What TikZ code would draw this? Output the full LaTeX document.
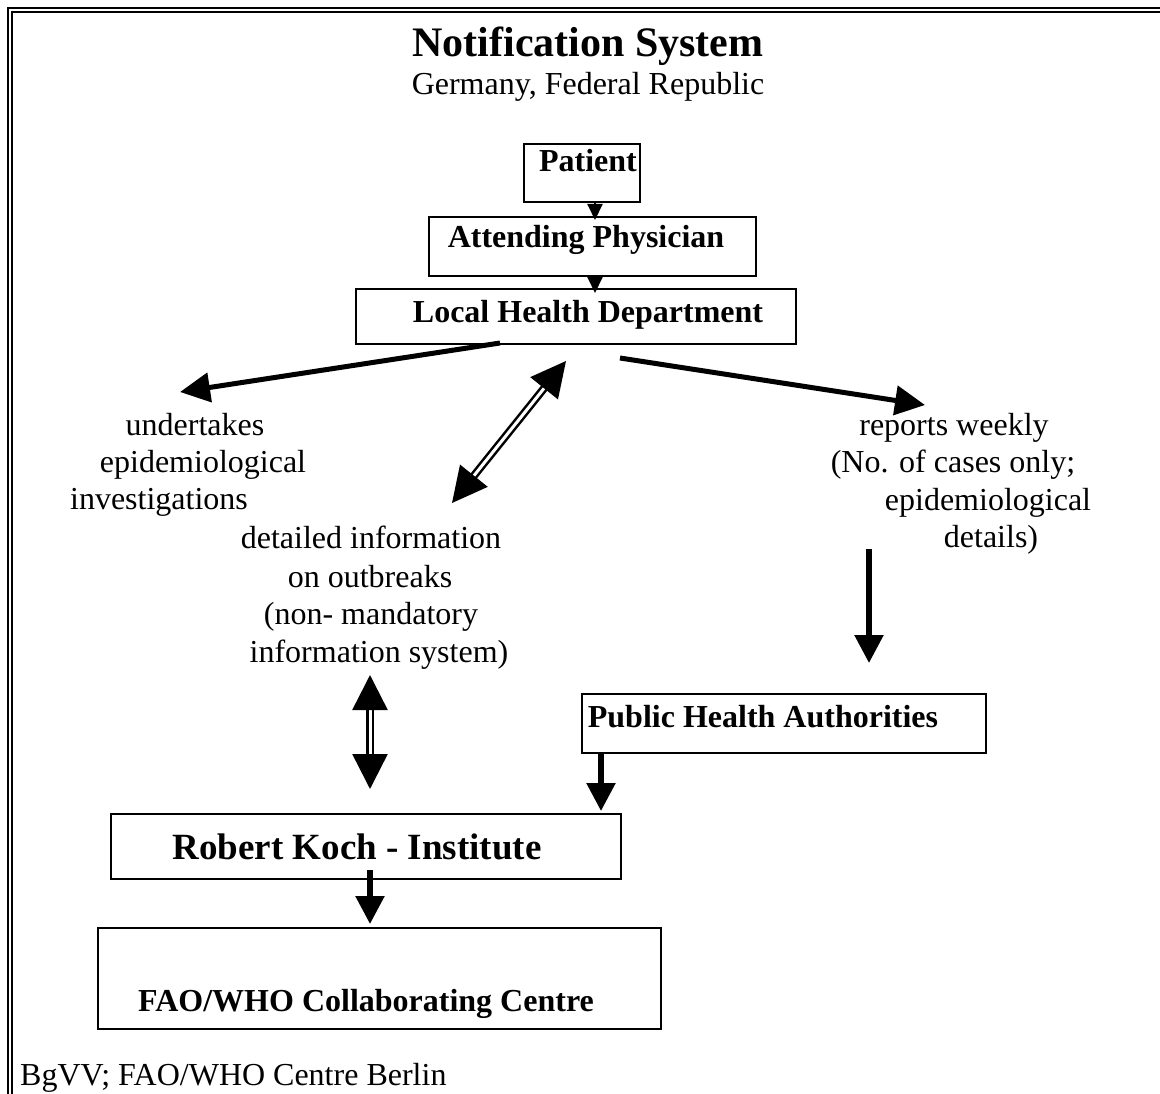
\documentclass[tikz,border=0pt]{standalone}
\usepackage{fontspec}
\setmainfont{Liberation Serif}
\usetikzlibrary{arrows.meta}
\tikzset{
	frame/.style={line width=2.5pt},
	box/.style={draw,line width=2pt,inner sep=0pt,anchor=north west},
	txt/.style={inner sep=0pt,anchor=base,font=\fontsize{32}{37}\selectfont},
	btxt/.style={txt,font=\fontsize{32}{37}\selectfont\bfseries},
	small/.style={line width=2pt,-{Triangle[length=16pt,width=15pt]}},
	slant/.style={line width=5pt,-{Triangle[length=30pt,width=29pt]}},
	down/.style={line width=5.5pt,-{Triangle[length=28pt,width=28pt]}},
	dbl/.style={line width=2.5pt,double,double distance=3pt,
		{Triangle[length=35pt,width=35pt]}-{Triangle[length=35pt,width=35pt]}}
}
\begin{document}
\begin{tikzpicture}[x=1pt,y=-1pt]
	\useasboundingbox(0,0)rectangle(1160,1094);
	\draw[frame](8,1094)--(8,8)--(1160,8);
	\draw[frame](12,1094)--(12,12)--(1160,12);
	\node[txt,font=\fontsize{42}{46}\selectfont\bfseries](title)at(588,57){Notification System};
	\node[txt](country)at(588,95){Germany, Federal Republic};
	\node[box,minimum width=116pt,minimum height=58pt](patient)at(523,143){};
	\node[box,minimum width=327pt,minimum height=59pt](phys)at(428,216){};
	\node[box,minimum width=440pt,minimum height=55pt](lhd)at(355,288){};
	\node[box,minimum width=404pt,minimum height=59pt](pha)at(581,693){};
	\node[box,minimum width=510pt,minimum height=65pt](rki)at(110,813){};
	\node[box,minimum width=563pt,minimum height=101pt](fao)at(97,927){};
	\node[btxt](patientlbl)at(588,172){Patient};
	\node[btxt](physlbl)at(586,248){Attending Physician};
	\node[btxt](lhdlbl)at(588,323){Local Health Department};
	\node[btxt](phalbl)at(763,727){Public Health Authorities};
	\node[btxt,font=\fontsize{37}{42}\selectfont\bfseries](rkilbl)at(357,859){Robert Koch - Institute};
	\node[btxt](faolbl)at(366,1011){FAO/WHO Collaborating Centre};
	\foreach \x/\y/\t [count=\i] in {195/435/undertakes,203/472/epidemiological,159/509/investigations}
		\node[txt](inv\i)at(\x,\y){\t};
	\foreach \x/\y/\t [count=\i] in {371/548/detailed information,370/587/on outbreaks,371/624/(non- mandatory,379/662/information system)}
		\node[txt](info\i)at(\x,\y){\t};
	\foreach \x/\y/\t [count=\i] in {954/435/reports weekly,953/472/(No. of cases only;,988/510/epidemiological,991/547/details)}
		\node[txt](rep\i)at(\x,\y){\t};
	\node[txt,anchor=base west](source)at(20,1085){BgVV; FAO/WHO Centre Berlin};
	\coordinate(a1)at(595,201);
	\coordinate(a2)at(595,220);
	\coordinate(b1)at(595,275);
	\coordinate(b2)at(595,293);
	\coordinate(c1)at(500,343);
	\coordinate(c2)at(180,392);
	\coordinate(d1)at(620,358);
	\coordinate(d2)at(925,405);
	\coordinate(e1)at(566,361);
	\coordinate(e2)at(452,503);
	\coordinate(f1)at(370,675);
	\coordinate(f2)at(370,789);
	\coordinate(g1)at(869,549);
	\coordinate(g2)at(869,663);
	\coordinate(h1)at(601,752);
	\coordinate(h2)at(601,811);
	\coordinate(k1)at(370,870);
	\coordinate(k2)at(370,924);
	\draw[small](a1)--(a2);
	\draw[small](b1)--(b2);
	\draw[slant](c1)--(c2);
	\draw[slant](d1)--(d2);
	\draw[dbl](e1)--(e2);
	\draw[dbl](f1)--(f2);
	\draw[down](g1)--(g2);
	\draw[down](h1)--(h2);
	\draw[down](k1)--(k2);
\end{tikzpicture}
\end{document}
